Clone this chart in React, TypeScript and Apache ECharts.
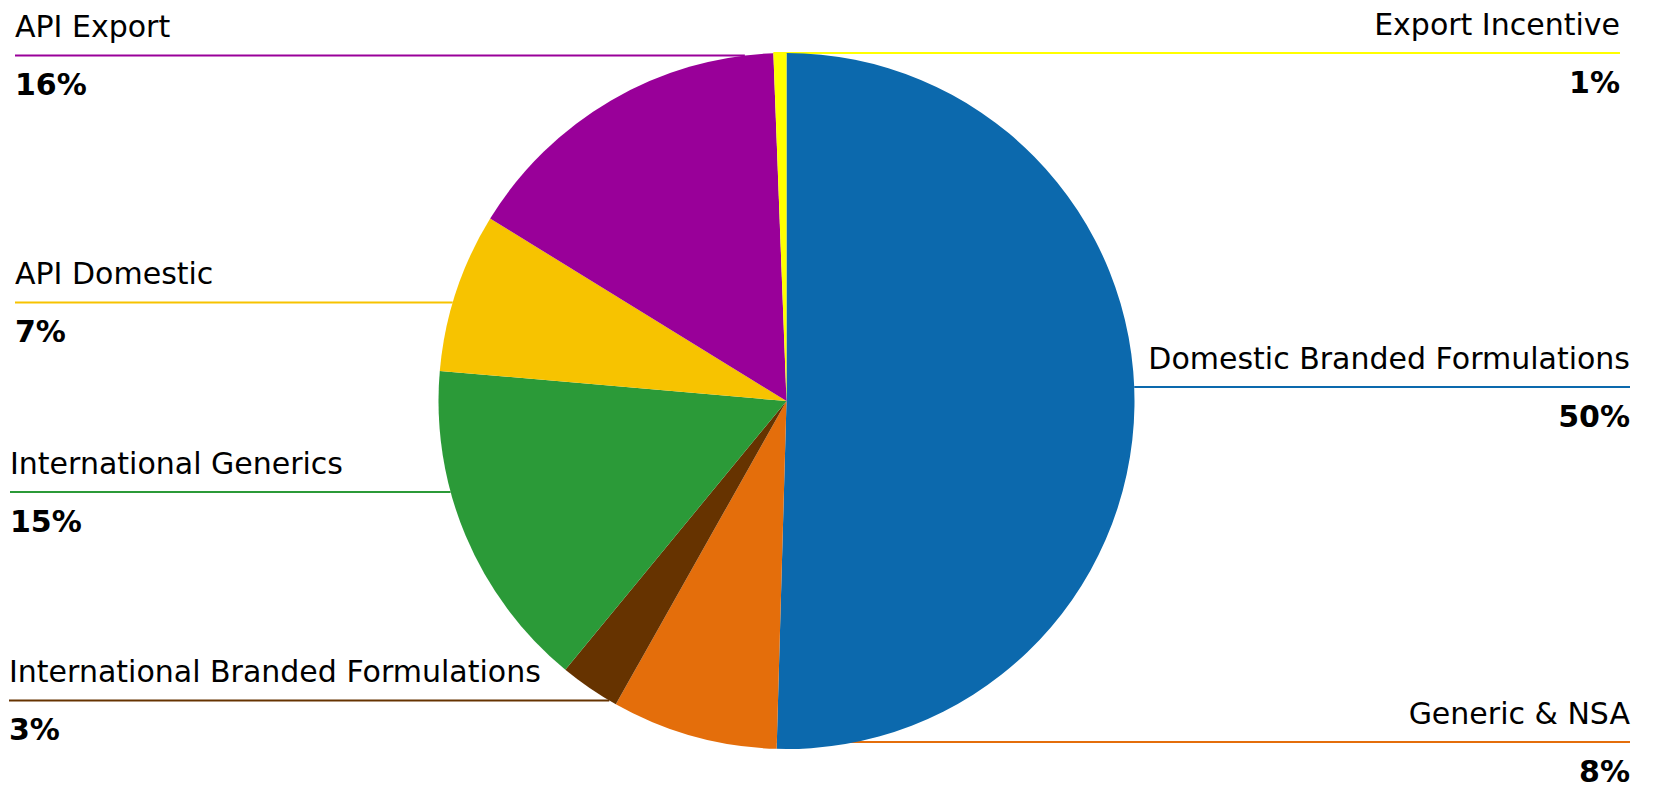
import React, { useEffect, useRef } from 'react';
import * as echarts from 'echarts';

// ---- data ----
const categories = [
  'Domestic Branded Formulations',
  'Generic & NSA',
  'International Branded Formulations',
  'International Generics',
  'API Domestic',
  'API Export',
  'Export Incentive',
];
const shares = [50.4, 7.7, 2.8, 15.4, 7.4, 15.6, 0.6];
const colors = ['#0C69AD', '#E46E0B', '#663300', '#2B9A38', '#F7C300', '#990099', '#FFFF00'];

// ---- label placement (layout) ----
const labelSide = ['right', 'right', 'left', 'left', 'left', 'left', 'right'];
const labelLineY = [387, 742, 700.5, 492, 302.5, 55.5, 53];
const labelEdgeX = [1630, 1630, 9, 10, 15, 15, 1620];

const W = 1654;
const H = 789;
const CX = 786.5;
const CY = 401;
const R = 348;
const FONT = '"DejaVu Sans", "Liberation Sans", Arial, sans-serif';

const total = shares.reduce((a, b) => a + b, 0);
const startFrac = shares.map((_, i) => shares.slice(0, i).reduce((a, b) => a + b, 0) / total);

export default function App() {
  const ref = useRef<HTMLDivElement>(null);

  useEffect(() => {
    document.body.style.margin = '0';
    const chart = echarts.init(ref.current as HTMLDivElement, null, { renderer: 'svg' });
    chart.setOption({
      animation: false,
      backgroundColor: '#ffffff',
      series: [
        {
          type: 'pie',
          center: [CX, CY],
          radius: R,
          startAngle: 90,
          clockwise: true,
          avoidLabelOverlap: false,
          silent: true,
          itemStyle: { borderWidth: 0 },
          data: categories.map((name, i) => ({
            name,
            value: shares[i],
            itemStyle: { color: colors[i] },
          })),
          label: {
            show: true,
            position: 'outside',
            color: '#000',
            formatter: (p: any) => `{n|${p.name}}\n{p|${Math.round(p.percent)}%}`,
            rich: {
              n: { fontFamily: FONT, fontSize: 30, fontWeight: 'normal', color: '#000', lineHeight: 58 },
              p: { fontFamily: FONT, fontSize: 30, fontWeight: 'bold', color: '#000', lineHeight: 58 },
            },
          },
          labelLine: {
            show: true,
            length: 5,
            length2: 5,
            smooth: false,
            lineStyle: { width: 2 },
          },
          labelLayout: (params: any) => {
            const i = params.dataIndex;
            const y = labelLineY[i];
            const dy = y - CY;
            const dx = Math.sqrt(Math.max(0, R * R - dy * dy));
            const edge = labelEdgeX[i];
            const isLeft = labelSide[i] === 'left';
            let sx = isLeft ? CX - dx : CX + dx;
            // slice lying on the opposite side of its label: start the line at the slice's boundary
            const midAngle = (startFrac[i] + shares[i] / total / 2) * 2 * Math.PI;
            const midX = CX + R * Math.sin(midAngle);
            if (!isLeft && midX < CX) {
              sx = CX + R * Math.sin(startFrac[i] * 2 * Math.PI);
            }
            return {
              x: edge,
              y,
              align: isLeft ? 'left' : 'right',
              verticalAlign: 'middle',
              labelLinePoints: [[sx, y], [sx, y], [edge, y]],
            };
          },
        },
      ],
    });
    return () => chart.dispose();
  }, []);

  return (
    <div
      ref={ref}
      style={{ position: 'absolute', left: 0, top: 0, width: W, height: H }}
    />
  );
}
